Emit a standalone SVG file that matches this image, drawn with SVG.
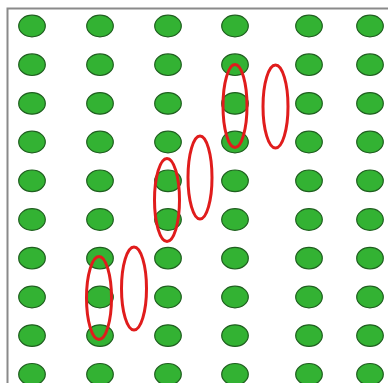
<svg xmlns="http://www.w3.org/2000/svg" width="388" height="383" viewBox="0 0 388 383">
<style>
.dot{fill:#33b233;stroke:#1f5f1f;stroke-width:1.2}
.ring{fill:none;stroke:#e01c1c;stroke-width:3}
.frame{fill:none;stroke:#8a8a8a;stroke-width:2}
</style>
<defs>
<ellipse id="d" cx="0" cy="0" rx="13.3" ry="10.8" class="dot"/>
<g id="col">
<use href="#d" y="26"/><use href="#d" y="64.7"/><use href="#d" y="103.4"/><use href="#d" y="142"/><use href="#d" y="180.8"/>
<use href="#d" y="219.5"/><use href="#d" y="258.2"/><use href="#d" y="297"/><use href="#d" y="335.6"/><use href="#d" y="374.3"/>
</g>
</defs>
<rect width="388" height="383" fill="#ffffff"/>
<path class="frame" d="M7.5 383 V8.5 H388"/>
<g id="grid">
<use href="#col" x="32"/>
<use href="#col" x="100"/>
<use href="#col" x="168"/>
<use href="#col" x="235"/>
<use href="#col" x="309"/>
<use href="#col" x="370"/>
</g>
<g id="rings">
<ellipse class="ring" cx="235" cy="106" rx="12" ry="41.5"/>
<ellipse class="ring" cx="275.5" cy="106.5" rx="12.5" ry="41.5"/>
<ellipse class="ring" cx="167" cy="200" rx="12.5" ry="41.5"/>
<ellipse class="ring" cx="200" cy="177.5" rx="12" ry="41.5"/>
<ellipse class="ring" cx="99" cy="298" rx="12.5" ry="41.5"/>
<ellipse class="ring" cx="134" cy="288.5" rx="12.5" ry="41.5"/>
</g>
</svg>
